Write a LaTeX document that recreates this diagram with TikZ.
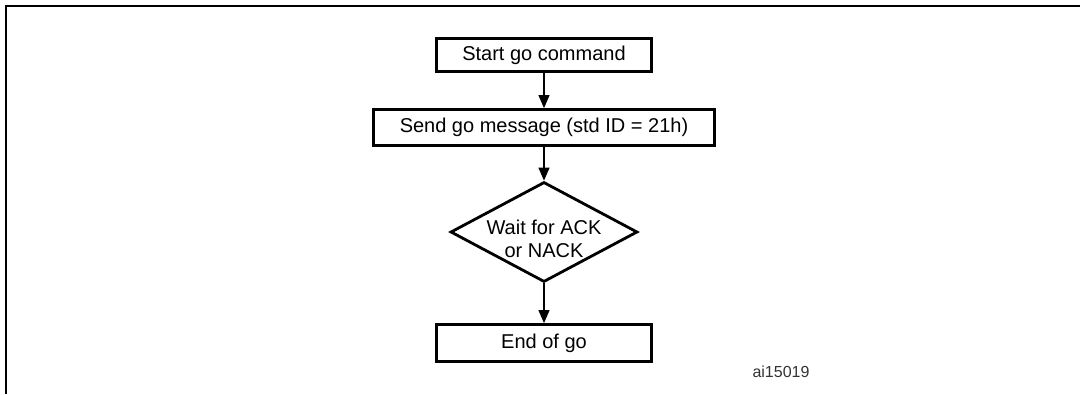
\documentclass[tikz,border=0pt]{standalone}
\usepackage{fontspec}
\setmainfont{Liberation Sans}
\usetikzlibrary{shapes.geometric,arrows.meta,positioning}

\begin{document}
\begin{tikzpicture}[
    x=1pt, y=-1pt,
    node distance=72.5pt,
    every node/.style={align=center},
    stepbox/.style={rectangle, minimum width=215pt, minimum height=33pt, text height=14pt, text depth=4pt, text centered, draw=black, line width=2.8pt, font=\fontsize{20}{23}\selectfont},
    widebox/.style={stepbox, minimum width=341pt, minimum height=36pt},
    decision/.style={diamond, inner sep=0pt, minimum width=187pt, minimum height=100pt, draw=black, line width=2.8pt},
    decisiontext/.style={font=\fontsize{20}{23}\selectfont, yshift=-7pt},
    arrow/.style={line width=1.2pt, -{Triangle[length=13pt,width=11pt]}},
    frame/.style={line width=2pt},
    tag/.style={font=\fontsize{16}{19}\selectfont, text=black!80}
]
\useasboundingbox (0,0) rectangle (1080,394);

% Figure frame
\draw[frame] (5.5,394) -- (5.5,5.5) -- (1080,5.5);

% Steps
\node[stepbox] (start) at (544,55) {Start go command};
\node[widebox, below of=start] (send) {Send go message (std ID = 21h)};

% Decision
\node[decision, below of=send, yshift=-32pt,
      label={[decisiontext]center:Wait for ACK\\or NACK}] (wait) {};

% End
\node[stepbox, below of=wait, yshift=-38.5pt, minimum height=37pt] (end) {End of go};

% Connections
\draw[arrow] (start) -- (send);
\draw[arrow] (send) -- (wait);
\draw[arrow] (wait) -- (end);

% Figure id
\node[tag] (figid) at (781,372) {ai15019};

\end{tikzpicture}
\end{document}
